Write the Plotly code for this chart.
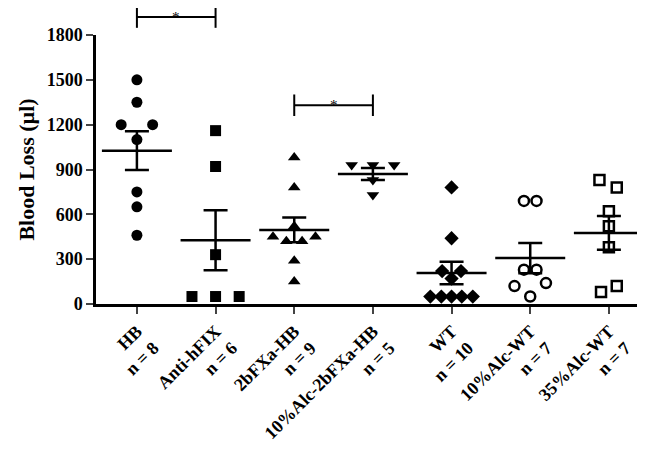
import numpy as np
import plotly.graph_objects as go

labels = ["HB<br>n = 8", "Anti-hFIX<br>n = 6", "2bFXa-HB<br>n = 9", "10%Alc-2bFXa-HB<br>n = 5",
          "WT<br>n = 10", "10%Alc-WT<br>n = 7", "35%Alc-WT<br>n = 7"]
hb = [1500, 1350, 1200, 1200, 1100, 750, 650, 460]
anti = [1160, 920, 330, 50, 50, 50]
fxa = [980, 780, 520, 450, 450, 420, 420, 290, 150]
alc_fxa = [930, 930, 930, 830, 730]
wt = [780, 440, 220, 220, 170, 50, 50, 50, 50, 50]
alc10 = [690, 690, 230, 230, 140, 120, 50]
alc35 = [830, 780, 620, 520, 380, 120, 80]
groups = [hb, anti, fxa, alc_fxa, wt, alc10, alc35]
symbols = ["circle", "square", "triangle-up", "triangle-down", "diamond", "circle-open", "square-open"]
xoff = [
    [0, 0, -0.2, 0.2, 0, 0, 0, 0],
    [0, 0, 0, -0.3, 0, 0.3],
    [0, 0, 0, -0.27, 0.27, -0.1, 0.1, 0, 0],
    [-0.27, 0, 0.27, 0, 0],
    [0, 0, -0.12, 0.12, 0, -0.27, -0.13, 0, 0.13, 0.27],
    [-0.08, 0.08, -0.08, 0.08, 0.2, -0.2, 0],
    [-0.12, 0.1, 0, 0, 0, 0.1, -0.1],
]

fig = go.Figure()
for i, g in enumerate(groups):
    x = [i + o for o in xoff[i]]
    opn = "open" in symbols[i]
    sz = 10 if opn else (9 if symbols[i] == "diamond" else 11)
    if symbols[i] == "diamond":
        sz = 11
    fig.add_trace(go.Scatter(x=x, y=g, mode="markers", cliponaxis=False,
                             marker=dict(symbol=symbols[i], size=sz, color="black",
                                         line=dict(color="black", width=2.5 if opn else 0))))
    m = float(np.mean(g)); s = float(np.std(g, ddof=1) / np.sqrt(len(g)))
    fig.add_trace(go.Scatter(x=[i], y=[m], mode="markers",
                             marker=dict(symbol="line-ew", size=50, line=dict(color="black", width=2.5)),
                             error_y=dict(type="data", array=[s], color="black", thickness=2.5, width=12)))

for a, b, yy in [(0, 1, 1920), (2, 3, 1330)]:
    p = yy / 1800
    fig.add_shape(type="line", x0=a, x1=b, y0=p, y1=p, yref="paper", line=dict(color="black", width=2))
    for xx in (a, b):
        fig.add_shape(type="line", x0=xx, x1=xx, y0=p - 0.04, y1=p + 0.04, yref="paper",
                      line=dict(color="black", width=2))
    fig.add_annotation(x=(a + b) / 2, y=p, yref="paper", text="*", showarrow=False, yshift=10,
                       font=dict(size=15, color="black"))

fig.update_layout(
    width=645, height=458, showlegend=False, plot_bgcolor="white", paper_bgcolor="white",
    margin=dict(l=88, r=15, t=27, b=162, autoexpand=False),
    font=dict(family="Liberation Serif", color="black", size=18),
    xaxis=dict(range=[-0.52, 6.37], tickvals=list(range(7)), ticktext=["<b>%s</b>" % l for l in labels],
               tickangle=-45, showline=True, linecolor="black", linewidth=2.5, ticks="outside",
               ticklen=7, tickwidth=2, showgrid=False, zeroline=False, automargin=False),
    yaxis=dict(range=[0, 1800], tickvals=[0, 300, 600, 900, 1200, 1500, 1800],
               ticktext=["<b>%d</b>" % v for v in [0, 300, 600, 900, 1200, 1500, 1800]],
               showline=True, linecolor="black", linewidth=2.5, ticks="outside", ticklen=7,
               tickwidth=2, showgrid=False, zeroline=False, automargin=False,
               title=dict(text="<b>Blood Loss (µl)</b>", standoff=6)),
)
fig.write_html("out.html")
